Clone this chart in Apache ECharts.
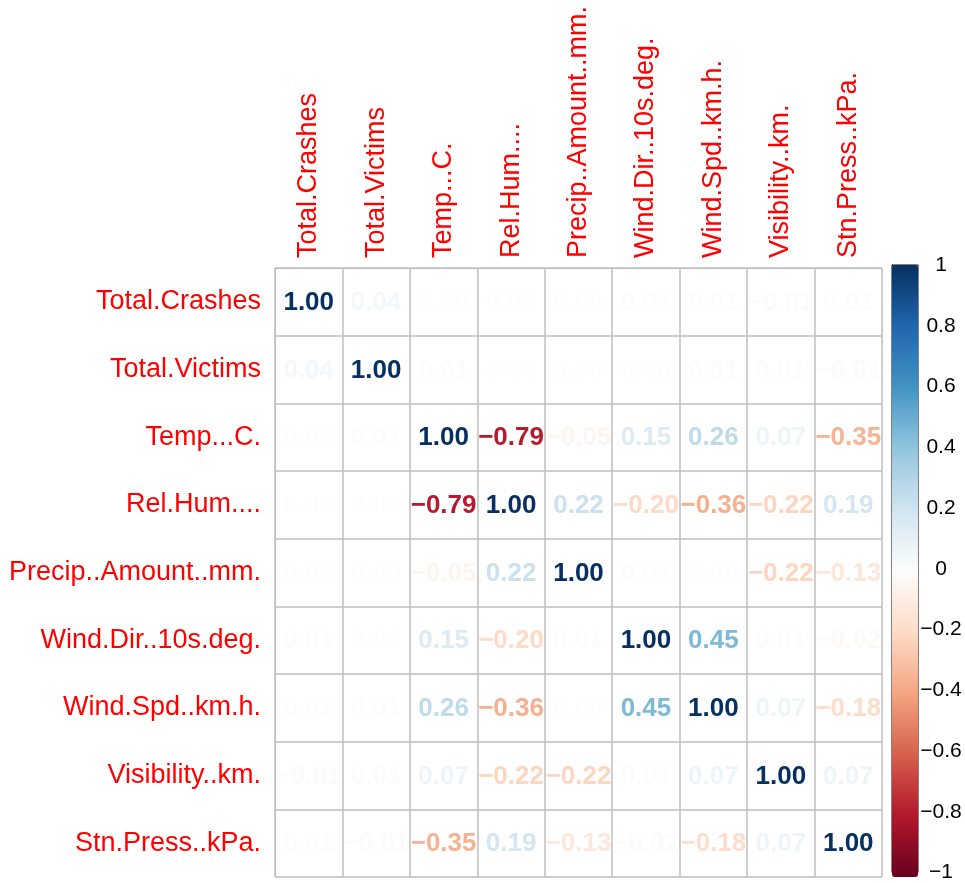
<!DOCTYPE html>
<html>
<head>
<meta charset="utf-8">
<script src="https://cdn.jsdelivr.net/npm/echarts@6/dist/echarts.min.js"></script>
<style>
  html, body { margin: 0; padding: 0; background: #fff; }
  #chart { width: 965px; height: 883px; }
</style>
</head>
<body>
<div id="chart"></div>
<script>
const vars = ['Total.Crashes', 'Total.Victims', 'Temp...C.', 'Rel.Hum....', 'Precip..Amount..mm.',
  'Wind.Dir..10s.deg.', 'Wind.Spd..km.h.', 'Visibility..km.', 'Stn.Press..kPa.']

// correlation matrix, rows top to bottom
const corr = [
  [1.00, 0.04, 0.00, 0.00, 0.00, 0.01, 0.01, -0.01, 0.01],
  [0.04, 1.00, 0.01, 0.00, 0.00, 0.00, 0.01, 0.01, -0.01],
  [0.00, 0.01, 1.00, -0.79, -0.05, 0.15, 0.26, 0.07, -0.35],
  [0.00, 0.00, -0.79, 1.00, 0.22, -0.20, -0.36, -0.22, 0.19],
  [0.00, 0.00, -0.05, 0.22, 1.00, 0.01, 0.00, -0.22, -0.13],
  [0.01, 0.00, 0.15, -0.20, 0.01, 1.00, 0.45, 0.01, -0.02],
  [0.01, 0.01, 0.26, -0.36, 0.00, 0.45, 1.00, 0.07, -0.18],
  [-0.01, 0.01, 0.07, -0.22, -0.22, 0.01, 0.07, 1.00, 0.07],
  [0.01, -0.01, -0.35, 0.19, -0.13, -0.02, -0.18, 0.07, 1.00],
]

const palette = ['#67001F', '#B2182B', '#D6604D', '#F4A582', '#FDDBC7', '#FDFDFC',
  '#D1E5F0', '#92C5DE', '#4393C3', '#2166AC', '#053061']

const FONT = 'Liberation Sans, Arial, Helvetica, sans-serif'
const fmtNum = v => (v < 0 ? '\u2212' : '') + Math.abs(v).toFixed(2)

const cells = []
corr.forEach((row, i) => row.forEach((v, j) => cells.push([j, i, v])))

const chart = echarts.init(document.getElementById('chart'), null, { renderer: 'canvas' })

chart.setOption({
  animation: false,
  textStyle: { fontFamily: FONT },
  grid: [
    { left: 275, top: 268, width: 607, height: 609 },
    { left: 892, top: 265, width: 26, height: 612, show: true, borderColor: '#000', borderWidth: 1, backgroundColor: 'transparent' },
  ],
  xAxis: [
    {
      type: 'category', data: vars, position: 'top', gridIndex: 0,
      axisLine: { show: true, lineStyle: { color: '#BEBEBE' } },
      axisTick: { show: false },
      splitLine: { show: true, interval: 0, lineStyle: { color: '#BEBEBE', width: 1.5 } },
      axisLabel: { interval: 0, rotate: -90, color: '#FF0000', fontSize: 27, fontFamily: FONT, margin: 10 },
    },
    { type: 'value', gridIndex: 1, show: false, min: 0, max: 1 },
  ],
  yAxis: [
    {
      type: 'category', data: vars, inverse: true, gridIndex: 0,
      axisLine: { show: true, lineStyle: { color: '#BEBEBE' } },
      axisTick: { show: false },
      splitLine: { show: true, interval: 0, lineStyle: { color: '#BEBEBE', width: 1.5 } },
      axisLabel: { interval: 0, color: '#FF0000', fontSize: 27, fontFamily: FONT, margin: 14 },
    },
    {
      type: 'value', gridIndex: 1, position: 'right', min: -1, max: 1, interval: 0.2,
      axisLine: { show: true, lineStyle: { color: '#000' } },
      axisTick: { show: true, inside: false, length: 5, lineStyle: { color: '#000' } },
      splitLine: { show: false },
      axisLabel: {
        color: '#000', fontSize: 21, fontFamily: FONT, margin: 23, align: 'center',
        formatter: v => {
          const r = Math.round(v * 10) / 10
          if (r === 0) return '0'
          return (r < 0 ? '\u2212' : '') + String(Math.abs(r))
        },
      },
    },
  ],
  visualMap: {
    type: 'continuous', min: -1, max: 1, dimension: 2, seriesIndex: 0,
    inRange: { color: palette },
    orient: 'vertical', left: 892, top: 265, itemWidth: 26, itemHeight: 612,
    padding: 0, calculable: false, showLabel: false, text: null, hoverLink: false,
  },
  series: [{
    type: 'custom',
    coordinateSystem: 'cartesian2d',
    xAxisIndex: 0, yAxisIndex: 0,
    data: cells,
    silent: true,
    renderItem: (params, api) => {
      const p = api.coord([api.value(0), api.value(1)])
      return {
        type: 'text',
        x: p[0], y: p[1] + 1,
        style: {
          text: fmtNum(api.value(2)),
          fill: api.visual('color'),
          font: 'bold 26px ' + FONT,
          align: 'center',
          verticalAlign: 'middle',
        },
      }
    },
  }],
})
</script>
</body>
</html>
